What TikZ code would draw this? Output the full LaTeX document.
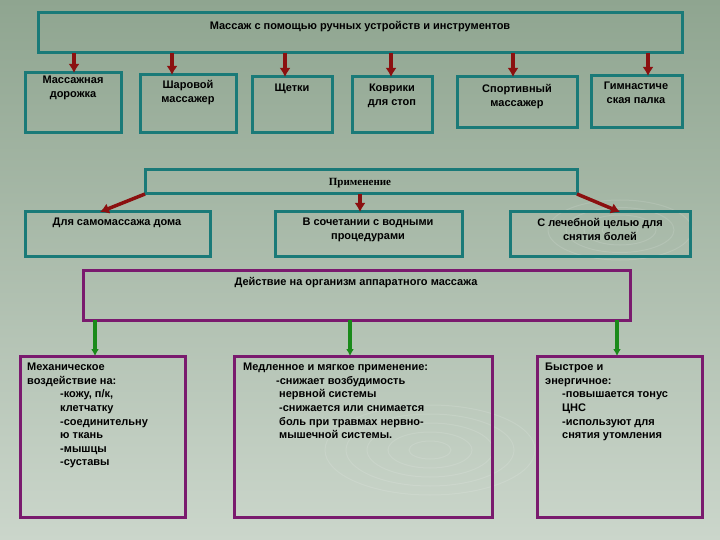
\documentclass[tikz,border=0pt]{standalone}
\usepackage{fontspec}
\usetikzlibrary{arrows.meta}
\setmainfont{Liberation Sans}
\newfontfamily\serifru{Liberation Serif}
\definecolor{bgtop}{HTML}{8FA590}
\definecolor{bgbot}{HTML}{CBD6CB}
\definecolor{teal}{HTML}{1A7A78}
\definecolor{purp}{HTML}{7A1A6E}
\definecolor{redar}{HTML}{8B1010}
\definecolor{grar}{HTML}{1A8A1A}
\begin{document}
\begin{tikzpicture}[x=1pt,y=-1pt,
 tb/.style={draw=teal,line width=3pt},
 pb/.style={draw=purp,line width=3pt},
 tx/.style={font=\bfseries\fontsize{11}{14}\selectfont,align=center,inner sep=0pt},
 lt/.style={font=\bfseries\fontsize{11}{13.6}\selectfont,align=left,inner sep=0pt,anchor=north west},
 ra/.style={draw=redar,line width=3.5pt,-{Latex[length=9pt,width=11pt]}},
 ga/.style={draw=grar,line width=3.5pt,-{Latex[length=7pt,width=8pt]}}]
\useasboundingbox (0,0) rectangle (720,540);
\shade[top color=bgtop,bottom color=bgbot] (0,0) rectangle (720,540);
\foreach \r in {15,30,45,60,75}{\draw[white,opacity=0.12,line width=1pt] (430,450) ellipse ({\r*1.4} and \r*0.6);}
\foreach \r in {15,30,45,60}{\draw[white,opacity=0.12,line width=1pt] (620,230) ellipse ({\r*1.2} and \r*0.5);}
% top
\draw[tb] (38,13) rectangle (682,53);
\node[tx] (top) at (360,27) {Массаж с помощью ручных устройств и инструментов};
\draw[tb] (25,73) rectangle (121,133); \node[tx,anchor=north] (a1) at (73,76) {Массажная\\дорожка};
\draw[tb] (140,75) rectangle (236,133); \node[tx,anchor=north] (a2) at (188,80) {Шаровой\\массажер};
\draw[tb] (252,77) rectangle (332,133); \node[tx,anchor=north] (a3) at (292,84) {Щетки};
\draw[tb] (352,77) rectangle (432,133); \node[tx,anchor=north] (a4) at (392,84) {Коврики\\для стоп};
\draw[tb] (457,77) rectangle (577,128); \node[tx,anchor=north] (a5) at (517,84) {Спортивный\\массажер};
\draw[tb] (591,76) rectangle (682,128); \node[tx,anchor=north] (a6) at (636,82) {Гимнастиче\\ская палка};
\foreach \x/\y in {74/73,172/75,285/77,391/77,513/77,648/76}{\coordinate (s\x) at (\x,53); \coordinate (e\x) at (\x,\y); \draw[ra] (s\x) -- (e\x);}
% Применение
\draw[tb] (145,170) rectangle (577,194);
\node[inner sep=0pt,font=\serifru\bfseries\fontsize{11}{12}\selectfont] (pr) at (360,183) {Применение};
\draw[tb] (25,212) rectangle (210,256); \node[tx,anchor=north] (b1) at (117,218) {Для самомассажа дома};
\draw[tb] (275,212) rectangle (462,256); \node[tx,anchor=north] (b2) at (368,218) {В сочетании с водными\\процедурами};
\draw[tb] (510,212) rectangle (690,256); \node[tx,anchor=north] (b3) at (600,218) {С лечебной целью для\\снятия болей};
\coordinate (p1) at (145,194); \coordinate (q1) at (100,212);
\coordinate (p2) at (360,194); \coordinate (q2) at (360,212);
\coordinate (p3) at (577,194); \coordinate (q3) at (620,212);
\draw[ra] (p1) -- (q1); \draw[ra] (p2) -- (q2); \draw[ra] (p3) -- (q3);
% Действие
\draw[pb] (83,270) rectangle (630,320);
\node[tx] (d) at (356,283) {Действие на организм аппаратного массажа};
\draw[pb] (20,356) rectangle (185,517);
\draw[pb] (234,356) rectangle (492,517);
\draw[pb] (537,356) rectangle (702,517);
\foreach \x in {95,350,617}{\coordinate (u\x) at (\x,320); \coordinate (v\x) at (\x,356); \draw[ga] (u\x) -- (v\x);}
\node[lt] (c1) at (27,363) {Механическое\\воздействие на:\\\hspace*{33pt}-кожу, п/к,\\\hspace*{33pt}клетчатку\\\hspace*{33pt}-соединительну\\\hspace*{33pt}ю ткань\\\hspace*{33pt}-мышцы\\\hspace*{33pt}-суставы};
\node[lt] (c2) at (243,363) {Медленное и мягкое применение:\\\hspace*{33pt}-снижает возбудимость\\\hspace*{36pt}нервной системы\\\hspace*{36pt}-снижается или снимается\\\hspace*{36pt}боль при травмах нервно-\\\hspace*{36pt}мышечной системы.};
\node[lt] (c3) at (545,363) {Быстрое и\\энергичное:\\\hspace*{17pt}-повышается тонус\\\hspace*{17pt}ЦНС\\\hspace*{17pt}-используют для\\\hspace*{17pt}снятия утомления};
\end{tikzpicture}
\end{document}
